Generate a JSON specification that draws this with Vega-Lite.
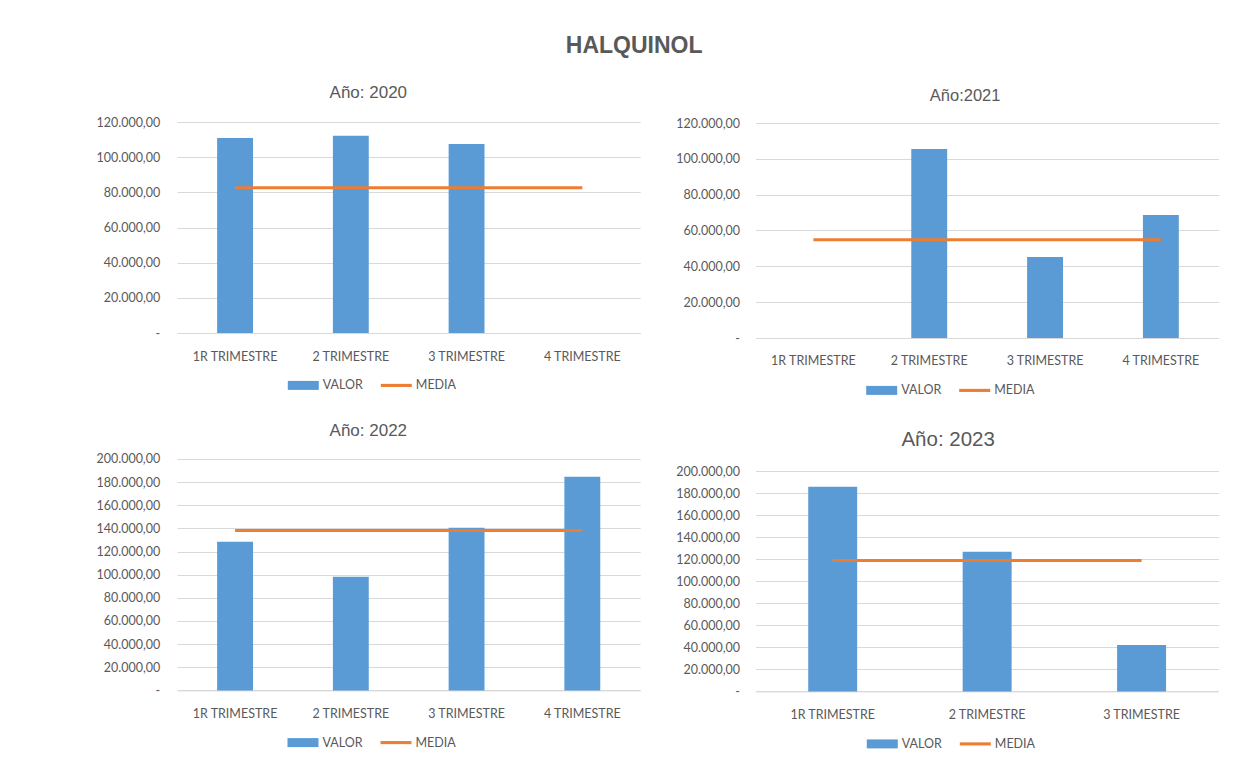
{
  "$schema": "https://vega.github.io/schema/vega-lite/v6.json",
  "background": "white",
  "autosize": {"type": "pad"},
  "padding": {"left": 95.2, "top": 35, "right": 0, "bottom": 0},
  "title": {"text": "HALQUINOL", "fontSize": 23, "fontWeight": "bold", "font": "Liberation Sans", "color": "#595959", "anchor": "middle", "frame": "bounds", "dx": -23.2, "offset": 26},
  "bounds": "flush",
  "align": "each",
  "columns": 2,
  "spacing": {"row": 121, "column": 115.3},
  "resolve": {"scale": {"color": "independent"}, "legend": {"color": "independent"}},
  "concat": [
    {
      "width": 463, "height": 211,
      "title": {"text": "Año: 2020", "fontSize": 17, "dx": -40.4, "offset": 14},
      "data": {"values": [
        {"trimestre": "1R TRIMESTRE", "valor": 110900, "media": 82650},
        {"trimestre": "2 TRIMESTRE", "valor": 112200, "media": 82650},
        {"trimestre": "3 TRIMESTRE", "valor": 107500, "media": 82650},
        {"trimestre": "4 TRIMESTRE", "valor": 0, "media": 82650}
      ]},
      "layer": [
        {
          "mark": {"type": "bar"},
          "encoding": {
            "x": {"field": "trimestre", "type": "nominal", "sort": null, "scale": {"paddingInner": 0.69, "paddingOuter": 0.345}, "axis": {"labelPadding": 17}},
            "y": {"field": "valor", "type": "quantitative", "scale": {"domain": [0, 120000], "nice": false}, "axis": {"values": [0, 20000, 40000, 60000, 80000, 100000, 120000]}},
            "color": {"datum": "VALOR", "scale": {"domain": ["VALOR", "MEDIA"], "range": ["#5B9BD5", "#ED7D31"]},
              "legend": {"legendX": 110.6, "legendY": 247.9,
                "encode": {"symbols": {"update": {"shape": {"signal": "datum.value === 'MEDIA' ? 'M-1,-0.1H1V0.1H-1Z' : 'M-1,-0.29H1V0.29H-1Z'"}, "fill": {"signal": "datum.value === 'MEDIA' ? '#ED7D31' : '#5B9BD5'"}, "strokeWidth": {"value": 0}, "opacity": {"value": 1}}}}}}
          }
        },
        {
          "mark": {"type": "line", "strokeWidth": 3},
          "encoding": {
            "x": {"field": "trimestre", "type": "nominal", "sort": null},
            "y": {"field": "media", "type": "quantitative", "axis": {"values": [0, 20000, 40000, 60000, 80000, 100000, 120000]}},
            "color": {"datum": "MEDIA"}
          }
        }
      ]
    },
    {
      "width": 463.3, "height": 216,
      "title": {"text": "Año:2021", "fontSize": 16.5, "dx": -22, "offset": 12.5},
      "data": {"values": [
        {"trimestre": "1R TRIMESTRE", "valor": 0, "media": 54850},
        {"trimestre": "2 TRIMESTRE", "valor": 105500, "media": 54850},
        {"trimestre": "3 TRIMESTRE", "valor": 45200, "media": 54850},
        {"trimestre": "4 TRIMESTRE", "valor": 68650, "media": 54850}
      ]},
      "layer": [
        {
          "mark": {"type": "bar"},
          "encoding": {
            "x": {"field": "trimestre", "type": "nominal", "sort": null, "scale": {"paddingInner": 0.69, "paddingOuter": 0.345}, "axis": {"labelPadding": 16}},
            "y": {"field": "valor", "type": "quantitative", "scale": {"domain": [0, 120558], "nice": false}, "axis": {"values": [0, 20000, 40000, 60000, 80000, 100000, 120000], "labelPadding": 16}},
            "color": {"datum": "VALOR", "scale": {"domain": ["VALOR", "MEDIA"], "range": ["#5B9BD5", "#ED7D31"]},
              "legend": {"legendX": 110.7, "legendY": 252.9,
                "encode": {"symbols": {"update": {"shape": {"signal": "datum.value === 'MEDIA' ? 'M-1,-0.1H1V0.1H-1Z' : 'M-1,-0.29H1V0.29H-1Z'"}, "fill": {"signal": "datum.value === 'MEDIA' ? '#ED7D31' : '#5B9BD5'"}, "strokeWidth": {"value": 0}, "opacity": {"value": 1}}}}}}
          }
        },
        {
          "mark": {"type": "line", "strokeWidth": 3},
          "encoding": {
            "x": {"field": "trimestre", "type": "nominal", "sort": null},
            "y": {"field": "media", "type": "quantitative", "axis": {"values": [0, 20000, 40000, 60000, 80000, 100000, 120000], "labelPadding": 16}},
            "color": {"datum": "MEDIA"}
          }
        }
      ]
    },
    {
      "width": 463, "height": 231.4,
      "title": {"text": "Año: 2022", "fontSize": 17, "dx": -40.4, "offset": 13.3},
      "data": {"values": [
        {"trimestre": "1R TRIMESTRE", "valor": 128500, "media": 138100},
        {"trimestre": "2 TRIMESTRE", "valor": 98300, "media": 138100},
        {"trimestre": "3 TRIMESTRE", "valor": 140600, "media": 138100},
        {"trimestre": "4 TRIMESTRE", "valor": 184700, "media": 138100}
      ]},
      "layer": [
        {
          "mark": {"type": "bar"},
          "encoding": {
            "x": {"field": "trimestre", "type": "nominal", "sort": null, "scale": {"paddingInner": 0.69, "paddingOuter": 0.345}, "axis": {"labelPadding": 17.2}},
            "y": {"field": "valor", "type": "quantitative", "scale": {"domain": [0, 200000], "nice": false}, "axis": {"values": [0, 20000, 40000, 60000, 80000, 100000, 120000, 140000, 160000, 180000, 200000]}},
            "color": {"datum": "VALOR", "scale": {"domain": ["VALOR", "MEDIA"], "range": ["#5B9BD5", "#ED7D31"]},
              "legend": {"legendX": 110.3, "legendY": 268.1,
                "encode": {"symbols": {"update": {"shape": {"signal": "datum.value === 'MEDIA' ? 'M-1,-0.1H1V0.1H-1Z' : 'M-1,-0.29H1V0.29H-1Z'"}, "fill": {"signal": "datum.value === 'MEDIA' ? '#ED7D31' : '#5B9BD5'"}, "strokeWidth": {"value": 0}, "opacity": {"value": 1}}}}}}
          }
        },
        {
          "mark": {"type": "line", "strokeWidth": 3},
          "encoding": {
            "x": {"field": "trimestre", "type": "nominal", "sort": null},
            "y": {"field": "media", "type": "quantitative", "axis": {"values": [0, 20000, 40000, 60000, 80000, 100000, 120000, 140000, 160000, 180000, 200000]}},
            "color": {"datum": "MEDIA"}
          }
        }
      ]
    },
    {
      "width": 463.3, "height": 232.4,
      "title": {"text": "Año: 2023", "fontSize": 20.5, "dx": -39, "offset": 8},
      "data": {"values": [
        {"trimestre": "1R TRIMESTRE", "valor": 186100, "media": 119000},
        {"trimestre": "2 TRIMESTRE", "valor": 127000, "media": 119000},
        {"trimestre": "3 TRIMESTRE", "valor": 42200, "media": 119000}
      ]},
      "layer": [
        {
          "mark": {"type": "bar"},
          "encoding": {
            "x": {"field": "trimestre", "type": "nominal", "sort": null, "scale": {"paddingInner": 0.683, "paddingOuter": 0.3415}, "axis": {"labelPadding": 17.5}},
            "y": {"field": "valor", "type": "quantitative", "scale": {"domain": [0, 211273], "nice": false}, "axis": {"values": [0, 20000, 40000, 60000, 80000, 100000, 120000, 140000, 160000, 180000, 200000], "labelPadding": 16}},
            "color": {"datum": "VALOR", "scale": {"domain": ["VALOR", "MEDIA"], "range": ["#5B9BD5", "#ED7D31"]},
              "legend": {"legendX": 111.3, "legendY": 269.4,
                "encode": {"symbols": {"update": {"shape": {"signal": "datum.value === 'MEDIA' ? 'M-1,-0.1H1V0.1H-1Z' : 'M-1,-0.29H1V0.29H-1Z'"}, "fill": {"signal": "datum.value === 'MEDIA' ? '#ED7D31' : '#5B9BD5'"}, "strokeWidth": {"value": 0}, "opacity": {"value": 1}}}}}}
          }
        },
        {
          "mark": {"type": "line", "strokeWidth": 3},
          "encoding": {
            "x": {"field": "trimestre", "type": "nominal", "sort": null},
            "y": {"field": "media", "type": "quantitative", "axis": {"values": [0, 20000, 40000, 60000, 80000, 100000, 120000, 140000, 160000, 180000, 200000], "labelPadding": 16}},
            "color": {"datum": "MEDIA"}
          }
        }
      ]
    }
  ],
  "config": {
    "locale": {"number": {"decimal": ",", "thousands": ".", "grouping": [3], "currency": ["", " €"]}},
    "font": "Liberation Sans",
    "view": {"stroke": null},
    "title": {"color": "#595959", "fontWeight": "normal", "font": "Liberation Sans", "anchor": "middle", "frame": "group"},
    "axisX": {"title": null, "labelAngle": 0, "ticks": false, "grid": false, "domainColor": "#D9D9D9", "domainWidth": 1, "labelFont": "Lato", "labelFontSize": 12.5, "labelColor": "#595959"},
    "axisY": {"title": null, "ticks": false, "domain": false, "grid": true, "gridColor": "#D9D9D9", "gridWidth": 1, "format": ",.2f", "labelExpr": "datum.value === 0 ? '-\u00a0\u00a0' : datum.label", "labelPadding": 17.5, "labelOverlap": false, "labelFont": "Lato", "labelFontSize": 12.5, "labelColor": "#595959"},
    "legend": {
      "orient": "none", "direction": "horizontal", "title": null, "padding": 0,
      "labelOffset": 4, "columnPadding": 17, "symbolSize": 961,
      "symbolType": "M-1,-0.29H1V0.29H-1Z",
      "labelFont": "Lato", "labelFontSize": 12.5, "labelColor": "#595959",
      "symbolStrokeWidth": 0,
      "symbolOpacity": 1
    }
  }
}
